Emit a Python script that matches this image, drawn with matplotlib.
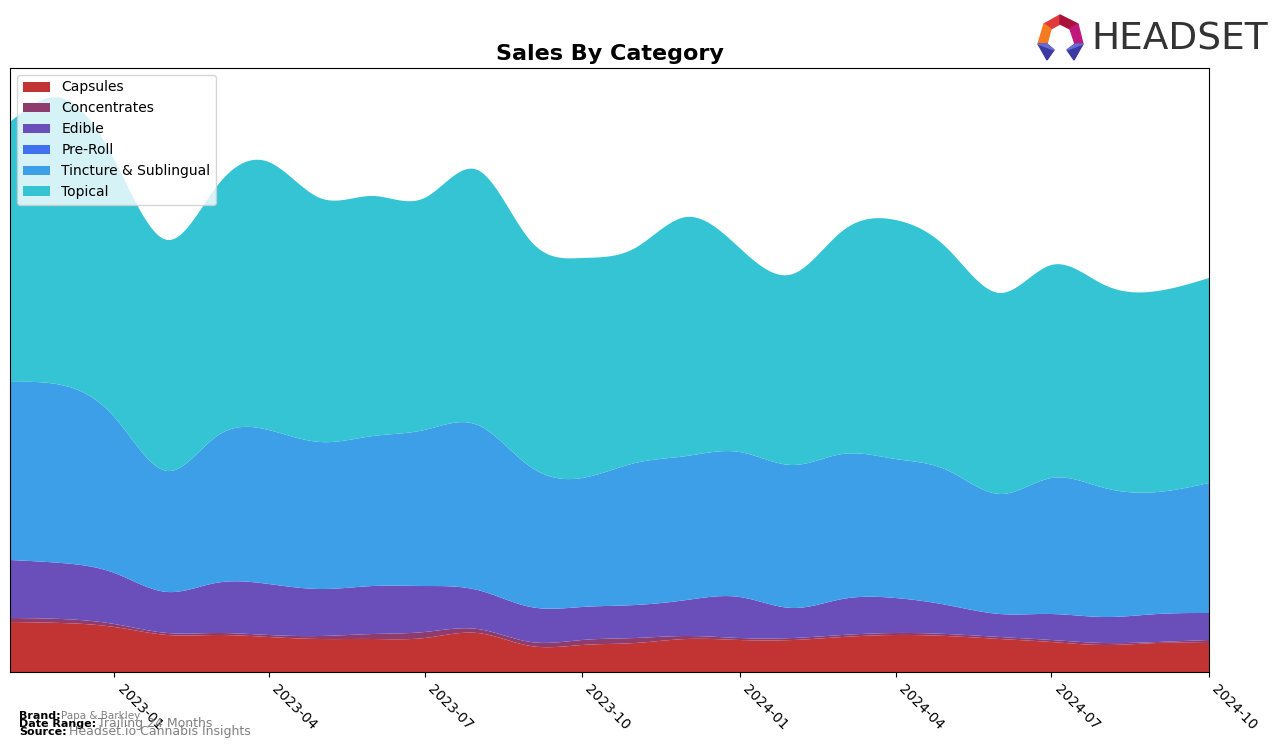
import numpy as np
import matplotlib.pyplot as plt
import matplotlib.dates as mdates
from matplotlib.patches import Polygon

# monthly sales by category (relative units)
months = np.arange(np.datetime64("2022-11"), np.datetime64("2024-11"))
categories = ["Capsules", "Concentrates", "Edible", "Pre-Roll",
              "Tincture & Sublingual", "Topical"]
capsules = [50, 49, 45, 37, 37, 35, 33, 33, 34, 39, 26, 27,
            29, 33, 32, 32, 35, 37, 36, 33, 30, 27, 29, 29]
concentrates = [4, 4, 3, 2, 2, 2, 3, 5, 6, 4, 4, 5,
                5, 3, 2, 2, 2, 2, 2, 2, 2, 2, 1, 3]
edible = [58, 56, 51, 41, 50, 51, 47, 48, 46, 39, 35, 33,
          33, 36, 41, 30, 36, 35, 29, 23, 26, 26, 28, 27]
preroll = [0] * 24
tincture = [178, 178, 156, 121, 146, 154, 147, 150, 156, 165, 140, 129,
            142, 144, 145, 143, 145, 139, 135, 120, 136, 129, 122, 130]
topical = [260, 287, 257, 231, 249, 268, 244, 240, 232, 255, 226, 220,
           215, 239, 204, 191, 223, 239, 222, 201, 213, 203, 201, 205]

colors = ["#c23434", "#8e3b6e", "#6a4fbb", "#4170f0", "#3d9fe8", "#34c4d3"]


def natural_spline(x, y, xs):
    # plain natural cubic spline, just to draw the curves smooth
    x = np.asarray(x, float)
    y = np.asarray(y, float)
    n = len(x)
    h = np.diff(x)
    A = np.zeros((n, n))
    b = np.zeros(n)
    A[0, 0] = A[-1, -1] = 1.0
    for i in range(1, n - 1):
        A[i, i - 1] = h[i - 1]
        A[i, i] = 2 * (h[i - 1] + h[i])
        A[i, i + 1] = h[i]
        b[i] = 3 * ((y[i + 1] - y[i]) / h[i] - (y[i] - y[i - 1]) / h[i - 1])
    c = np.linalg.solve(A, b)
    idx = np.clip(np.searchsorted(x, xs) - 1, 0, n - 2)
    dx = xs - x[idx]
    bb = (y[idx + 1] - y[idx]) / h[idx] - h[idx] * (2 * c[idx] + c[idx + 1]) / 3
    dd = (c[idx + 1] - c[idx]) / (3 * h[idx])
    return y[idx] + bb * dx + c[idx] * dx**2 + dd * dx**3


x = mdates.date2num(months.astype("datetime64[D]").astype("O"))
xs = np.linspace(x[0], x[-1], 600)
series = [capsules, concentrates, edible, preroll, tincture, topical]
smooth = [natural_spline(x, s, xs) for s in series]

fig = plt.figure(figsize=(12.76, 7.49), dpi=100)
ax = fig.add_axes([10 / 1276, 77 / 749, 1199 / 1276, 604 / 749])
ax.stackplot(xs, *smooth, labels=categories, colors=colors)

ax.set_xlim(x[0], x[-1])
ax.set_ylim(0, 604)
ax.set_yticks([])
ax.xaxis.set_major_locator(mdates.MonthLocator(bymonth=[1, 4, 7, 10]))
ax.xaxis.set_major_formatter(mdates.DateFormatter("%Y-%m"))
plt.setp(ax.get_xticklabels(), rotation=-45, ha="left", va="top", fontsize=10)
ax.set_title("Sales By Category", fontsize=16, fontweight="bold")
ax.legend(loc="upper left", fontsize=10)

# footer
fig.text(19 / 1276, 1 - 716 / 749, "Brand:", fontsize=8, fontweight="bold", va="center")
fig.text(61 / 1276, 1 - 716 / 749, "Papa & Barkley", fontsize=7.5, color="gray", va="center")
fig.text(19 / 1276, 1 - 724 / 749, "Date Range:", fontsize=8, fontweight="bold", va="center")
fig.text(98 / 1276, 1 - 724 / 749, "Trailing 24 Months", fontsize=9, color="gray", va="center")
fig.text(19 / 1276, 1 - 732 / 749, "Source:", fontsize=8, fontweight="bold", va="center")
fig.text(69 / 1276, 1 - 732 / 749, "Headset.io Cannabis Insights", fontsize=9, color="gray", va="center")

# logo
fig.text(1091 / 1276, 1 - 39 / 749, "HEADSET", fontsize=27, color="#333333",
         va="center", ha="left")
logo = [
    ([(1044, 24), (1060, 15), (1060, 24), (1051, 29)], "#e23a3a"),
    ([(1060, 15), (1078, 24), (1070, 29), (1060, 24)], "#a8123a"),
    ([(1078, 24), (1083, 44), (1075, 44), (1070, 29)], "#c2177a"),
    ([(1044, 24), (1051, 29), (1047, 44), (1038, 44)], "#f47b20"),
    ([(1038, 44), (1047, 44), (1054, 50), (1047, 60)], "#3a3aa0"),
    ([(1083, 44), (1075, 44), (1067, 50), (1074, 60)], "#3a3aa0"),
    ([(1038, 44), (1047, 44), (1054, 50)], "#6b6bd8"),
    ([(1083, 44), (1075, 44), (1067, 50)], "#6b6bd8"),
]
for pts, col in logo:
    fig.patches.append(Polygon([(px / 1276, 1 - py / 749) for px, py in pts],
                               closed=True, color=col, transform=fig.transFigure))

fig.savefig("out.png", dpi=100)
